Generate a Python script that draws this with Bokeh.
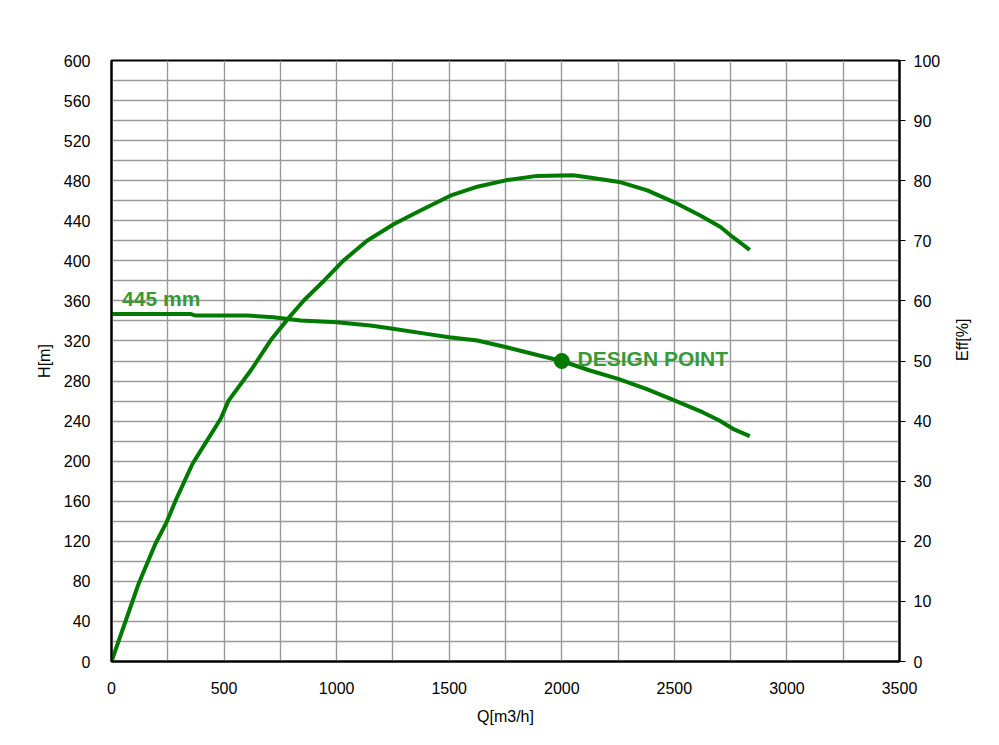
import math
from bokeh.plotting import figure
from bokeh.models import Range1d, LinearAxis, FixedTicker, Label
from bokeh.embed import file_html
from bokeh.resources import INLINE

# ---- data ----
q_head = [0, 350, 370, 600, 720, 840, 1000, 1150, 1250, 1400, 1500, 1625, 1750,
          1900, 2000, 2125, 2250, 2375, 2500, 2625, 2700, 2760, 2835]
h_head = [347, 347, 345.5, 345.5, 343.7, 340.4, 338.7, 335.4, 332.1, 327.1, 323.8,
          320.5, 314, 305.5, 300, 290.5, 282.2, 272.2, 260.6, 248.9, 240.6, 232.3, 225]

q_eff = [0, 120, 195, 245, 285, 360, 420, 485, 520, 620, 706, 790, 855, 945, 1030,
         1135, 1255, 1370, 1505, 1625, 1755, 1890, 2050, 2130, 2255, 2380, 2500,
         2615, 2705, 2760, 2835]
eff = [0, 12.9, 19.6, 23.2, 26.8, 32.9, 36.5, 40.4, 43.4, 48.5, 53.4, 57.3, 60.1,
       63.4, 66.7, 70.0, 72.8, 75.0, 77.5, 79.0, 80.1, 80.8, 80.9, 80.5, 79.8, 78.4,
       76.4, 74.2, 72.3, 70.6, 68.5]

design_q = [2000]
design_h = [300]

x_ticks = list(range(0, 3501, 500))
x_grid = list(range(0, 3501, 250))
h_ticks = list(range(0, 601, 40))
h_grid = list(range(0, 601, 20))
eff_ticks = list(range(0, 101, 10))

curve_color = "#007a00"
label_color = "#379a37"
font = "Liberation Sans"

p = figure(width=983, height=729, output_backend="svg", toolbar_location=None,
           x_range=Range1d(0, 3500), y_range=Range1d(0, 600),
           min_border_left=111, min_border_right=84, min_border_top=60,
           min_border_bottom=68, background_fill_color="white",
           border_fill_color="white")
p.extra_y_ranges = {"eff": Range1d(0, 100)}

p.outline_line_color = "black"
p.outline_line_width = 2
p.outline_line_alpha = 1

# grids
p.xgrid.ticker = FixedTicker(ticks=x_grid)
p.ygrid.ticker = FixedTicker(ticks=h_grid)
for g in (p.xgrid[0], p.ygrid[0]):
    g.grid_line_color = "#9a9a9a"
    g.grid_line_width = 1.4
    g.grid_line_alpha = 1

# axes
xa = p.xaxis[0]
xa.ticker = FixedTicker(ticks=x_ticks)
ya = p.yaxis[0]
ya.ticker = FixedTicker(ticks=h_ticks)
xa.axis_label = "Q[m3/h]"
ya.axis_label = "H[m]"

ra = LinearAxis(y_range_name="eff", ticker=FixedTicker(ticks=eff_ticks), axis_label="Eff[%]")
p.add_layout(ra, "right")

for a in (xa, ya, ra):
    a.axis_line_color = "black"
    a.axis_line_width = 2
    a.minor_tick_line_color = None
    a.major_tick_in = 0
    a.major_label_text_font = font
    a.major_label_text_font_size = "16px"
    a.major_label_text_color = "black"
    a.axis_label_text_font = font
    a.axis_label_text_font_size = "16px"
    a.axis_label_text_font_style = "normal"
    a.axis_label_text_color = "black"

xa.major_tick_out = 0
ya.major_tick_out = 0
xa.major_label_standoff = 20
ya.major_label_standoff = 21
xa.axis_label_standoff = 11
ya.axis_label_standoff = 8

ra.major_tick_out = 6
ra.major_tick_line_color = "black"
ra.major_tick_line_width = 1
ra.major_label_standoff = 8
ra.axis_label_standoff = 19
try:
    ra.axis_label_orientation = math.pi / 2
except Exception:
    pass

# curves
p.line(q_head, h_head, line_color=curve_color, line_width=4)
p.line(q_eff, eff, line_color=curve_color, line_width=4, y_range_name="eff")
p.scatter(design_q, design_h, size=15, fill_color=curve_color, line_color=curve_color)

p.add_layout(Label(x=47, y=362, text="445 mm", text_font=font, text_font_size="21px",
                   text_font_style="bold", text_color=label_color,
                   text_baseline="alphabetic"))
p.add_layout(Label(x=2070, y=302, text="DESIGN POINT", text_font=font,
                   text_font_size="21px", text_font_style="bold",
                   text_color=label_color, text_baseline="alphabetic"))

open("out.html", "w").write(file_html(p, INLINE))
